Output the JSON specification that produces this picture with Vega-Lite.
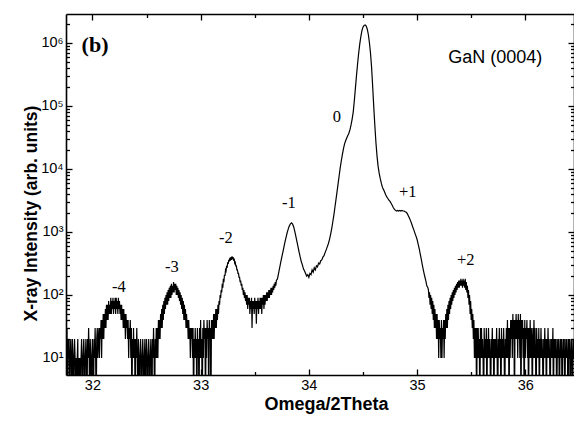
{
 "$schema": "https://vega.github.io/schema/vega-lite/v6.json",
 "width": 508, "height": 361,
 "autosize": {"type": "none"},
 "padding": {"left": 66, "top": 14, "right": 0, "bottom": 49},
 "background": "white",
 "config": {
  "view": {"stroke": null},
  "axis": {"domainColor": "black", "domainWidth": 1.6, "tickColor": "black", "tickWidth": 1.3, "labelColor": "black", "titleColor": "black", "labelFont": "Liberation Sans", "titleFont": "Liberation Sans", "grid": false}
 },
 "datasets": {
  "scan": [
{"x":31.755,"y":30},{"x":31.76,"y":10},{"x":31.765,"y":30},{"x":31.77,"y":1},{"x":31.775,"y":20},{"x":31.78,"y":10},{"x":31.785,"y":20},{"x":31.79,"y":1},{"x":31.795,"y":10},{"x":31.8,"y":20},
{"x":31.805,"y":10},{"x":31.81,"y":1},{"x":31.815,"y":20},{"x":31.82,"y":10},{"x":31.825,"y":1},{"x":31.83,"y":10},{"x":31.835,"y":20},{"x":31.84,"y":10},{"x":31.845,"y":1},{"x":31.85,"y":10},
{"x":31.855,"y":1},{"x":31.86,"y":10},{"x":31.865,"y":20},{"x":31.87,"y":1},{"x":31.875,"y":10},{"x":31.88,"y":1},{"x":31.885,"y":10},{"x":31.89,"y":1},{"x":31.895,"y":10},{"x":31.9,"y":20},
{"x":31.905,"y":10},{"x":31.91,"y":1},{"x":31.915,"y":10},{"x":31.92,"y":20},{"x":31.925,"y":10},{"x":31.93,"y":1},{"x":31.935,"y":10},{"x":31.94,"y":20},{"x":31.945,"y":10},{"x":31.95,"y":1},
{"x":31.955,"y":20},{"x":31.96,"y":10},{"x":31.965,"y":30},{"x":31.97,"y":10},{"x":31.975,"y":1},{"x":31.98,"y":20},{"x":31.985,"y":10},{"x":31.99,"y":1},{"x":31.995,"y":10},{"x":32.0,"y":20},
{"x":32.005,"y":10},{"x":32.01,"y":1},{"x":32.015,"y":20},{"x":32.02,"y":10},{"x":32.025,"y":30},{"x":32.03,"y":10},{"x":32.035,"y":1},{"x":32.04,"y":20},{"x":32.045,"y":30},{"x":32.05,"y":10},
{"x":32.055,"y":20},{"x":32.06,"y":30},{"x":32.065,"y":10},{"x":32.07,"y":30},{"x":32.075,"y":20},{"x":32.08,"y":40},{"x":32.085,"y":10},{"x":32.09,"y":40},{"x":32.095,"y":20},{"x":32.1,"y":50},
{"x":32.105,"y":20},{"x":32.11,"y":50},{"x":32.115,"y":30},{"x":32.12,"y":60},{"x":32.125,"y":30},{"x":32.13,"y":70},{"x":32.135,"y":40},{"x":32.14,"y":70},{"x":32.145,"y":40},{"x":32.15,"y":80},
{"x":32.155,"y":50},{"x":32.16,"y":70},{"x":32.165,"y":50},{"x":32.17,"y":90},{"x":32.175,"y":50},{"x":32.18,"y":80},{"x":32.185,"y":60},{"x":32.19,"y":90},{"x":32.195,"y":50},{"x":32.2,"y":80},
{"x":32.205,"y":60},{"x":32.21,"y":90},{"x":32.215,"y":50},{"x":32.22,"y":90},{"x":32.225,"y":60},{"x":32.23,"y":80},{"x":32.235,"y":50},{"x":32.24,"y":90},{"x":32.245,"y":60},{"x":32.25,"y":80},
{"x":32.255,"y":50},{"x":32.26,"y":70},{"x":32.265,"y":40},{"x":32.27,"y":70},{"x":32.275,"y":40},{"x":32.28,"y":60},{"x":32.285,"y":30},{"x":32.29,"y":60},{"x":32.295,"y":30},{"x":32.3,"y":50},
{"x":32.305,"y":20},{"x":32.31,"y":50},{"x":32.315,"y":30},{"x":32.32,"y":40},{"x":32.325,"y":20},{"x":32.33,"y":40},{"x":32.335,"y":10},{"x":32.34,"y":30},{"x":32.345,"y":20},{"x":32.35,"y":40},
{"x":32.355,"y":10},{"x":32.36,"y":30},{"x":32.365,"y":1},{"x":32.37,"y":20},{"x":32.375,"y":10},{"x":32.38,"y":30},{"x":32.385,"y":10},{"x":32.39,"y":20},{"x":32.395,"y":1},{"x":32.4,"y":20},
{"x":32.405,"y":10},{"x":32.41,"y":30},{"x":32.415,"y":10},{"x":32.42,"y":1},{"x":32.425,"y":20},{"x":32.43,"y":10},{"x":32.435,"y":1},{"x":32.44,"y":10},{"x":32.445,"y":20},{"x":32.45,"y":10},
{"x":32.455,"y":1},{"x":32.46,"y":10},{"x":32.465,"y":20},{"x":32.47,"y":10},{"x":32.475,"y":1},{"x":32.48,"y":10},{"x":32.485,"y":20},{"x":32.49,"y":1},{"x":32.495,"y":10},{"x":32.5,"y":20},
{"x":32.505,"y":10},{"x":32.51,"y":1},{"x":32.515,"y":10},{"x":32.52,"y":20},{"x":32.525,"y":10},{"x":32.53,"y":1},{"x":32.535,"y":10},{"x":32.54,"y":20},{"x":32.545,"y":10},{"x":32.55,"y":1},
{"x":32.555,"y":20},{"x":32.56,"y":10},{"x":32.565,"y":30},{"x":32.57,"y":10},{"x":32.575,"y":1},{"x":32.58,"y":20},{"x":32.585,"y":10},{"x":32.59,"y":30},{"x":32.595,"y":10},{"x":32.6,"y":30},
{"x":32.605,"y":10},{"x":32.61,"y":40},{"x":32.615,"y":20},{"x":32.62,"y":40},{"x":32.625,"y":20},{"x":32.63,"y":50},{"x":32.635,"y":30},{"x":32.64,"y":60},{"x":32.645,"y":30},{"x":32.65,"y":70},
{"x":32.655,"y":40},{"x":32.66,"y":80},{"x":32.665,"y":50},{"x":32.67,"y":90},{"x":32.675,"y":60},{"x":32.68,"y":100},{"x":32.685,"y":70},{"x":32.69,"y":110},{"x":32.695,"y":70},{"x":32.7,"y":120},
{"x":32.705,"y":80},{"x":32.71,"y":130},{"x":32.715,"y":90},{"x":32.72,"y":140},{"x":32.725,"y":90},{"x":32.73,"y":150},{"x":32.735,"y":100},{"x":32.74,"y":140},{"x":32.745,"y":110},{"x":32.75,"y":160},
{"x":32.755,"y":110},{"x":32.76,"y":150},{"x":32.765,"y":120},{"x":32.77,"y":150},{"x":32.775,"y":100},{"x":32.78,"y":140},{"x":32.785,"y":100},{"x":32.79,"y":130},{"x":32.795,"y":90},{"x":32.8,"y":120},
{"x":32.805,"y":80},{"x":32.81,"y":110},{"x":32.815,"y":70},{"x":32.82,"y":100},{"x":32.825,"y":60},{"x":32.83,"y":90},{"x":32.835,"y":50},{"x":32.84,"y":80},{"x":32.845,"y":40},{"x":32.85,"y":70},
{"x":32.855,"y":40},{"x":32.86,"y":60},{"x":32.865,"y":30},{"x":32.87,"y":50},{"x":32.875,"y":30},{"x":32.88,"y":40},{"x":32.885,"y":20},{"x":32.89,"y":40},{"x":32.895,"y":20},{"x":32.9,"y":30},
{"x":32.905,"y":10},{"x":32.91,"y":30},{"x":32.915,"y":20},{"x":32.92,"y":30},{"x":32.925,"y":10},{"x":32.93,"y":30},{"x":32.935,"y":1},{"x":32.94,"y":20},{"x":32.945,"y":10},{"x":32.95,"y":30},
{"x":32.955,"y":10},{"x":32.96,"y":20},{"x":32.965,"y":1},{"x":32.97,"y":30},{"x":32.975,"y":10},{"x":32.98,"y":20},{"x":32.985,"y":1},{"x":32.99,"y":30},{"x":32.995,"y":10},{"x":33.0,"y":40},
{"x":33.005,"y":10},{"x":33.01,"y":20},{"x":33.015,"y":1},{"x":33.02,"y":30},{"x":33.025,"y":10},{"x":33.03,"y":40},{"x":33.035,"y":20},{"x":33.04,"y":30},{"x":33.045,"y":1},{"x":33.05,"y":30},
{"x":33.055,"y":10},{"x":33.06,"y":40},{"x":33.065,"y":20},{"x":33.07,"y":30},{"x":33.075,"y":1},{"x":33.08,"y":40},{"x":33.085,"y":20},{"x":33.09,"y":30},{"x":33.095,"y":1},{"x":33.1,"y":40},
{"x":33.105,"y":20},{"x":33.11,"y":40},{"x":33.115,"y":20},{"x":33.12,"y":50},{"x":33.125,"y":20},{"x":33.13,"y":50},{"x":33.135,"y":30},{"x":33.14,"y":60},{"x":33.145,"y":30},{"x":33.15,"y":60},
{"x":33.155,"y":40},{"x":33.16,"y":70},{"x":33.165,"y":50},{"x":33.17,"y":80},{"x":33.175,"y":70},{"x":33.18,"y":100},{"x":33.185,"y":90},{"x":33.19,"y":120},{"x":33.195,"y":110},{"x":33.2,"y":150},
{"x":33.205,"y":130},{"x":33.21,"y":180},{"x":33.215,"y":160},{"x":33.22,"y":210},{"x":33.225,"y":200},{"x":33.23,"y":250},{"x":33.235,"y":240},{"x":33.24,"y":290},{"x":33.245,"y":270},{"x":33.25,"y":330},
{"x":33.255,"y":310},{"x":33.26,"y":360},{"x":33.265,"y":340},{"x":33.27,"y":390},{"x":33.275,"y":350},{"x":33.28,"y":400},{"x":33.285,"y":360},{"x":33.29,"y":410},{"x":33.295,"y":370},{"x":33.3,"y":400},
{"x":33.305,"y":350},{"x":33.31,"y":380},{"x":33.315,"y":320},{"x":33.32,"y":330},{"x":33.325,"y":290},{"x":33.33,"y":290},{"x":33.335,"y":250},{"x":33.34,"y":250},{"x":33.345,"y":220},{"x":33.35,"y":220},
{"x":33.355,"y":190},{"x":33.36,"y":190},{"x":33.365,"y":160},{"x":33.37,"y":170},{"x":33.375,"y":140},{"x":33.38,"y":150},{"x":33.385,"y":120},{"x":33.39,"y":130},{"x":33.395,"y":100},{"x":33.4,"y":120},
{"x":33.405,"y":90},{"x":33.41,"y":110},{"x":33.415,"y":80},{"x":33.42,"y":100},{"x":33.425,"y":70},{"x":33.43,"y":100},{"x":33.435,"y":60},{"x":33.44,"y":90},{"x":33.445,"y":70},{"x":33.45,"y":90},
{"x":33.455,"y":50},{"x":33.46,"y":80},{"x":33.465,"y":60},{"x":33.47,"y":90},{"x":33.475,"y":30},{"x":33.48,"y":80},{"x":33.485,"y":60},{"x":33.49,"y":80},{"x":33.495,"y":50},{"x":33.5,"y":90},
{"x":33.505,"y":60},{"x":33.51,"y":80},{"x":33.515,"y":35},{"x":33.52,"y":80},{"x":33.525,"y":60},{"x":33.53,"y":90},{"x":33.535,"y":50},{"x":33.54,"y":80},{"x":33.545,"y":60},{"x":33.55,"y":90},
{"x":33.555,"y":60},{"x":33.56,"y":90},{"x":33.565,"y":50},{"x":33.57,"y":90},{"x":33.575,"y":70},{"x":33.58,"y":100},{"x":33.585,"y":60},{"x":33.59,"y":100},{"x":33.595,"y":70},{"x":33.6,"y":100},
{"x":33.605,"y":80},{"x":33.61,"y":110},{"x":33.615,"y":80},{"x":33.62,"y":110},{"x":33.625,"y":90},{"x":33.63,"y":120},{"x":33.635,"y":90},{"x":33.64,"y":120},{"x":33.645,"y":100},{"x":33.65,"y":130},
{"x":33.655,"y":100},{"x":33.66,"y":130},{"x":33.665,"y":110},{"x":33.67,"y":140},{"x":33.675,"y":120},{"x":33.68,"y":150},{"x":33.685,"y":130},{"x":33.69,"y":160},{"x":33.695,"y":140},{"x":33.7,"y":170},
{"x":33.71,"y":180},{"x":33.72,"y":220},{"x":33.73,"y":270},{"x":33.74,"y":330},{"x":33.75,"y":400},{"x":33.76,"y":480},{"x":33.77,"y":580},{"x":33.78,"y":700},{"x":33.79,"y":830},{"x":33.8,"y":980},
{"x":33.81,"y":1120},{"x":33.82,"y":1250},{"x":33.83,"y":1350},{"x":33.84,"y":1400},{"x":33.85,"y":1330},{"x":33.86,"y":1200},{"x":33.87,"y":1020},{"x":33.88,"y":850},{"x":33.89,"y":700},{"x":33.9,"y":580},
{"x":33.91,"y":480},{"x":33.92,"y":400},{"x":33.93,"y":340},{"x":33.94,"y":300},{"x":33.95,"y":260},{"x":33.96,"y":240},{"x":33.97,"y":220},{"x":33.98,"y":200},{"x":33.99,"y":210},{"x":34.0,"y":190},
{"x":34.01,"y":220},{"x":34.02,"y":210},{"x":34.03,"y":250},{"x":34.04,"y":230},{"x":34.05,"y":270},{"x":34.06,"y":250},{"x":34.07,"y":290},{"x":34.08,"y":280},{"x":34.09,"y":320},{"x":34.1,"y":310},
{"x":34.11,"y":350},{"x":34.12,"y":360},{"x":34.13,"y":400},{"x":34.14,"y":420},{"x":34.15,"y":470},{"x":34.16,"y":520},{"x":34.17,"y":580},{"x":34.18,"y":650},{"x":34.19,"y":750},{"x":34.2,"y":900},
{"x":34.21,"y":1100},{"x":34.22,"y":1400},{"x":34.23,"y":1800},{"x":34.24,"y":2400},{"x":34.25,"y":3200},{"x":34.26,"y":4300},{"x":34.27,"y":5800},{"x":34.28,"y":7800},{"x":34.29,"y":10500},{"x":34.3,"y":13500},
{"x":34.31,"y":17000},{"x":34.32,"y":21000},{"x":34.33,"y":25000},{"x":34.34,"y":28000},{"x":34.35,"y":31000},{"x":34.36,"y":34000},{"x":34.37,"y":37000},{"x":34.38,"y":42000},{"x":34.39,"y":50000},{"x":34.4,"y":62000},
{"x":34.41,"y":80000},{"x":34.42,"y":120000},{"x":34.43,"y":190000},{"x":34.44,"y":300000},{"x":34.45,"y":460000},{"x":34.46,"y":680000},{"x":34.47,"y":950000},{"x":34.48,"y":1250000},{"x":34.49,"y":1550000},{"x":34.5,"y":1780000},
{"x":34.51,"y":1900000},{"x":34.52,"y":1930000},{"x":34.53,"y":1850000},{"x":34.54,"y":1650000},{"x":34.55,"y":1350000},{"x":34.56,"y":1000000},{"x":34.57,"y":680000},{"x":34.58,"y":400000},{"x":34.59,"y":200000},{"x":34.6,"y":95000},
{"x":34.61,"y":48000},{"x":34.62,"y":26000},{"x":34.63,"y":16000},{"x":34.64,"y":11000},{"x":34.65,"y":8500},{"x":34.66,"y":7000},{"x":34.67,"y":5900},{"x":34.68,"y":5100},{"x":34.69,"y":4700},{"x":34.7,"y":4300},
{"x":34.71,"y":3900},{"x":34.72,"y":3600},{"x":34.73,"y":3400},{"x":34.74,"y":3200},{"x":34.75,"y":3050},{"x":34.76,"y":2850},{"x":34.77,"y":2650},{"x":34.78,"y":2450},{"x":34.79,"y":2300},{"x":34.8,"y":2200},
{"x":34.81,"y":2150},{"x":34.82,"y":2200},{"x":34.83,"y":2150},{"x":34.84,"y":2200},{"x":34.85,"y":2150},{"x":34.86,"y":2200},{"x":34.87,"y":2150},{"x":34.88,"y":2150},{"x":34.89,"y":2100},{"x":34.9,"y":2050},
{"x":34.91,"y":1950},{"x":34.92,"y":1800},{"x":34.93,"y":1650},{"x":34.94,"y":1500},{"x":34.95,"y":1350},{"x":34.96,"y":1200},{"x":34.97,"y":1080},{"x":34.98,"y":960},{"x":34.99,"y":860},{"x":35.0,"y":760},
{"x":35.01,"y":640},{"x":35.02,"y":540},{"x":35.03,"y":440},{"x":35.04,"y":360},{"x":35.05,"y":290},{"x":35.06,"y":240},{"x":35.07,"y":200},{"x":35.08,"y":170},{"x":35.09,"y":140},{"x":35.1,"y":130},
{"x":35.105,"y":120},{"x":35.11,"y":90},{"x":35.115,"y":110},{"x":35.12,"y":70},{"x":35.125,"y":100},{"x":35.13,"y":60},{"x":35.135,"y":90},{"x":35.14,"y":50},{"x":35.145,"y":80},{"x":35.15,"y":40},
{"x":35.155,"y":70},{"x":35.16,"y":30},{"x":35.165,"y":60},{"x":35.17,"y":30},{"x":35.175,"y":50},{"x":35.18,"y":20},{"x":35.185,"y":50},{"x":35.19,"y":20},{"x":35.195,"y":40},{"x":35.2,"y":10},
{"x":35.205,"y":40},{"x":35.21,"y":20},{"x":35.215,"y":30},{"x":35.22,"y":10},{"x":35.225,"y":40},{"x":35.23,"y":10},{"x":35.235,"y":30},{"x":35.24,"y":20},{"x":35.245,"y":40},{"x":35.25,"y":10},
{"x":35.255,"y":40},{"x":35.26,"y":20},{"x":35.265,"y":50},{"x":35.27,"y":30},{"x":35.275,"y":60},{"x":35.28,"y":30},{"x":35.285,"y":70},{"x":35.29,"y":40},{"x":35.295,"y":80},{"x":35.3,"y":50},
{"x":35.305,"y":90},{"x":35.31,"y":60},{"x":35.315,"y":100},{"x":35.32,"y":70},{"x":35.325,"y":110},{"x":35.33,"y":80},{"x":35.335,"y":120},{"x":35.34,"y":90},{"x":35.345,"y":130},{"x":35.35,"y":100},
{"x":35.355,"y":140},{"x":35.36,"y":110},{"x":35.365,"y":150},{"x":35.37,"y":120},{"x":35.375,"y":160},{"x":35.38,"y":130},{"x":35.385,"y":170},{"x":35.39,"y":130},{"x":35.395,"y":170},{"x":35.4,"y":140},
{"x":35.405,"y":180},{"x":35.41,"y":140},{"x":35.415,"y":170},{"x":35.42,"y":130},{"x":35.425,"y":180},{"x":35.43,"y":140},{"x":35.435,"y":170},{"x":35.44,"y":130},{"x":35.445,"y":180},{"x":35.45,"y":120},
{"x":35.455,"y":160},{"x":35.46,"y":110},{"x":35.465,"y":140},{"x":35.47,"y":90},{"x":35.475,"y":120},{"x":35.48,"y":70},{"x":35.485,"y":100},{"x":35.49,"y":50},{"x":35.495,"y":80},{"x":35.5,"y":40},
{"x":35.505,"y":60},{"x":35.51,"y":30},{"x":35.515,"y":50},{"x":35.52,"y":20},{"x":35.525,"y":40},{"x":35.53,"y":10},{"x":35.535,"y":30},{"x":35.54,"y":10},{"x":35.545,"y":30},{"x":35.55,"y":1},
{"x":35.555,"y":30},{"x":35.56,"y":10},{"x":35.565,"y":30},{"x":35.57,"y":10},{"x":35.575,"y":20},{"x":35.58,"y":1},{"x":35.585,"y":30},{"x":35.59,"y":10},{"x":35.595,"y":30},{"x":35.6,"y":10},
{"x":35.605,"y":20},{"x":35.61,"y":10},{"x":35.615,"y":1},{"x":35.62,"y":30},{"x":35.625,"y":10},{"x":35.63,"y":20},{"x":35.635,"y":10},{"x":35.64,"y":30},{"x":35.645,"y":1},{"x":35.65,"y":20},
{"x":35.655,"y":10},{"x":35.66,"y":30},{"x":35.665,"y":10},{"x":35.67,"y":20},{"x":35.675,"y":10},{"x":35.68,"y":1},{"x":35.685,"y":20},{"x":35.69,"y":10},{"x":35.695,"y":30},{"x":35.7,"y":10},
{"x":35.705,"y":20},{"x":35.71,"y":1},{"x":35.715,"y":20},{"x":35.72,"y":10},{"x":35.725,"y":20},{"x":35.73,"y":10},{"x":35.735,"y":30},{"x":35.74,"y":10},{"x":35.745,"y":1},{"x":35.75,"y":20},
{"x":35.755,"y":10},{"x":35.76,"y":30},{"x":35.765,"y":10},{"x":35.77,"y":20},{"x":35.775,"y":1},{"x":35.78,"y":30},{"x":35.785,"y":10},{"x":35.79,"y":20},{"x":35.795,"y":10},{"x":35.8,"y":30},
{"x":35.805,"y":10},{"x":35.81,"y":1},{"x":35.815,"y":20},{"x":35.82,"y":10},{"x":35.825,"y":30},{"x":35.83,"y":10},{"x":35.835,"y":40},{"x":35.84,"y":10},{"x":35.845,"y":30},{"x":35.85,"y":1},
{"x":35.855,"y":30},{"x":35.86,"y":10},{"x":35.865,"y":40},{"x":35.87,"y":20},{"x":35.875,"y":40},{"x":35.88,"y":10},{"x":35.885,"y":50},{"x":35.89,"y":20},{"x":35.895,"y":40},{"x":35.9,"y":1},
{"x":35.905,"y":40},{"x":35.91,"y":20},{"x":35.915,"y":50},{"x":35.92,"y":20},{"x":35.925,"y":40},{"x":35.93,"y":10},{"x":35.935,"y":50},{"x":35.94,"y":20},{"x":35.945,"y":40},{"x":35.95,"y":10},
{"x":35.955,"y":50},{"x":35.96,"y":1},{"x":35.965,"y":40},{"x":35.97,"y":20},{"x":35.975,"y":40},{"x":35.98,"y":10},{"x":35.985,"y":30},{"x":35.99,"y":1},{"x":35.995,"y":40},{"x":36.0,"y":10},
{"x":36.005,"y":30},{"x":36.01,"y":20},{"x":36.015,"y":40},{"x":36.02,"y":10},{"x":36.025,"y":30},{"x":36.03,"y":1},{"x":36.035,"y":30},{"x":36.04,"y":10},{"x":36.045,"y":40},{"x":36.05,"y":10},
{"x":36.055,"y":30},{"x":36.06,"y":20},{"x":36.065,"y":1},{"x":36.07,"y":30},{"x":36.075,"y":10},{"x":36.08,"y":40},{"x":36.085,"y":10},{"x":36.09,"y":30},{"x":36.095,"y":10},{"x":36.1,"y":1},
{"x":36.105,"y":30},{"x":36.11,"y":10},{"x":36.115,"y":20},{"x":36.12,"y":10},{"x":36.125,"y":30},{"x":36.13,"y":1},{"x":36.135,"y":20},{"x":36.14,"y":10},{"x":36.145,"y":30},{"x":36.15,"y":10},
{"x":36.155,"y":20},{"x":36.16,"y":10},{"x":36.165,"y":1},{"x":36.17,"y":20},{"x":36.175,"y":10},{"x":36.18,"y":30},{"x":36.185,"y":10},{"x":36.19,"y":20},{"x":36.195,"y":1},{"x":36.2,"y":20},
{"x":36.205,"y":10},{"x":36.21,"y":30},{"x":36.215,"y":10},{"x":36.22,"y":20},{"x":36.225,"y":10},{"x":36.23,"y":1},{"x":36.235,"y":20},{"x":36.24,"y":10},{"x":36.245,"y":20},{"x":36.25,"y":10},
{"x":36.255,"y":30},{"x":36.26,"y":1},{"x":36.265,"y":20},{"x":36.27,"y":10},{"x":36.275,"y":20},{"x":36.28,"y":10},{"x":36.285,"y":20},{"x":36.29,"y":1},{"x":36.295,"y":10},{"x":36.3,"y":20},
{"x":36.305,"y":10},{"x":36.31,"y":20},{"x":36.315,"y":1},{"x":36.32,"y":10},{"x":36.325,"y":20},{"x":36.33,"y":10},{"x":36.335,"y":20},{"x":36.34,"y":1},{"x":36.345,"y":10},{"x":36.35,"y":20},
{"x":36.355,"y":10},{"x":36.36,"y":20},{"x":36.365,"y":1},{"x":36.37,"y":10},{"x":36.375,"y":20},{"x":36.38,"y":10},{"x":36.385,"y":20},{"x":36.39,"y":10},{"x":36.395,"y":1},{"x":36.4,"y":20},
{"x":36.405,"y":10},{"x":36.41,"y":20},{"x":36.415,"y":1},{"x":36.42,"y":10},{"x":36.425,"y":20},{"x":36.43,"y":10},{"x":36.435,"y":1},{"x":36.44,"y":20},{"x":36.445,"y":10},{"x":36.45,"y":20}
  ],
  "peaks": [
   {"x": 34.26, "y": 67000, "t": "0"},
   {"x": 33.815, "y": 2885, "t": "-1"},
   {"x": 33.233, "y": 803, "t": "-2"},
   {"x": 32.735, "y": 278, "t": "-3"},
   {"x": 32.245, "y": 134, "t": "-4"},
   {"x": 34.914, "y": 4315, "t": "+1"},
   {"x": 35.449, "y": 359, "t": "+2"}
  ],
  "panel": [{"x": 32.024, "y": 930000, "t": "(b)"}],
  "sample": [{"x": 35.722, "y": 578000, "t": "GaN (0004)"}]
 },
 "resolve": {"axis": {"x": "independent", "y": "independent"}},
 "layer": [
  {
   "data": {"name": "scan"},
   "mark": {"type": "line", "color": "black", "strokeWidth": 1.2, "clip": true},
   "encoding": {
    "x": {"field": "x", "type": "quantitative", "scale": {"domain": [31.756, 36.45], "nice": false, "zero": false},
     "axis": {"orient": "bottom", "values": [32, 33, 34, 35, 36], "format": "d", "title": "Omega/2Theta", "tickSize": -6, "labelPadding": 9, "labelFontSize": 14.5, "titleFontSize": 18, "titleFontWeight": "bold", "titleX": 260, "titleY": 34, "titleBaseline": "alphabetic", "labelFlush": false}},
    "y": {"field": "y", "type": "quantitative", "scale": {"type": "log", "domain": [5.37, 2880000], "nice": false},
     "axis": {"orient": "left", "values": [10, 100, 1000, 10000, 100000, 1000000], "labelExpr": "datum.value == 10 ? '10¹' : datum.value == 100 ? '10²' : datum.value == 1000 ? '10³' : datum.value == 10000 ? '10⁴' : datum.value == 100000 ? '10⁵' : '10⁶'", "title": "X-ray Intensity (arb. units)", "tickSize": -6, "labelPadding": 9, "labelFontSize": 14.5, "titleFontSize": 17.5, "titleFontWeight": "bold", "titleX": -35, "titleY": 199, "titleBaseline": "middle", "labelFlush": false}}
   }
  },
  {
   "data": {"name": "peaks"},
   "mark": {"type": "text", "font": "Liberation Serif", "fontSize": 16.5, "color": "black", "align": "center", "baseline": "middle"},
   "encoding": {
    "x": {"field": "x", "type": "quantitative", "scale": {"domain": [31.756, 36.45], "nice": false, "zero": false},
     "axis": {"orient": "bottom", "values": [32.5, 33.5, 34.5, 35.5], "labels": false, "title": null, "tickSize": -3.5, "domain": false}},
    "y": {"field": "y", "type": "quantitative", "scale": {"type": "log", "domain": [5.37, 2880000], "nice": false},
     "axis": {"orient": "left", "values": [6,7,8,9,20,30,40,50,60,70,80,90,200,300,400,500,600,700,800,900,2000,3000,4000,5000,6000,7000,8000,9000,20000,30000,40000,50000,60000,70000,80000,90000,200000,300000,400000,500000,600000,700000,800000,900000,2000000], "labels": false, "title": null, "tickSize": -3.5, "domain": false}},
    "text": {"field": "t"}
   }
  },
  {
   "data": {"name": "panel"},
   "mark": {"type": "text", "font": "Liberation Serif", "fontSize": 22, "fontWeight": "bold", "color": "black", "align": "center", "baseline": "middle"},
   "encoding": {
    "x": {"field": "x", "type": "quantitative", "scale": {"domain": [31.756, 36.45], "nice": false, "zero": false},
     "axis": {"orient": "top", "values": [32, 33, 34, 35, 36], "labels": false, "title": null, "tickSize": -6}},
    "y": {"field": "y", "type": "quantitative", "scale": {"type": "log", "domain": [5.37, 2880000], "nice": false},
     "axis": {"orient": "right", "values": [10, 100, 1000, 10000, 100000, 1000000], "labels": false, "title": null, "tickSize": -6}},
    "text": {"field": "t"}
   }
  },
  {
   "data": {"name": "sample"},
   "mark": {"type": "text", "font": "Liberation Sans", "fontSize": 18, "color": "black", "align": "center", "baseline": "middle"},
   "encoding": {
    "x": {"field": "x", "type": "quantitative", "scale": {"domain": [31.756, 36.45], "nice": false, "zero": false},
     "axis": {"orient": "top", "values": [32.5, 33.5, 34.5, 35.5], "labels": false, "title": null, "tickSize": -3.5, "domain": false}},
    "y": {"field": "y", "type": "quantitative", "scale": {"type": "log", "domain": [5.37, 2880000], "nice": false},
     "axis": {"orient": "right", "values": [6,7,8,9,20,30,40,50,60,70,80,90,200,300,400,500,600,700,800,900,2000,3000,4000,5000,6000,7000,8000,9000,20000,30000,40000,50000,60000,70000,80000,90000,200000,300000,400000,500000,600000,700000,800000,900000,2000000], "labels": false, "title": null, "tickSize": -3.5, "domain": false}},
    "text": {"field": "t"}
   }
  }
 ]
}
